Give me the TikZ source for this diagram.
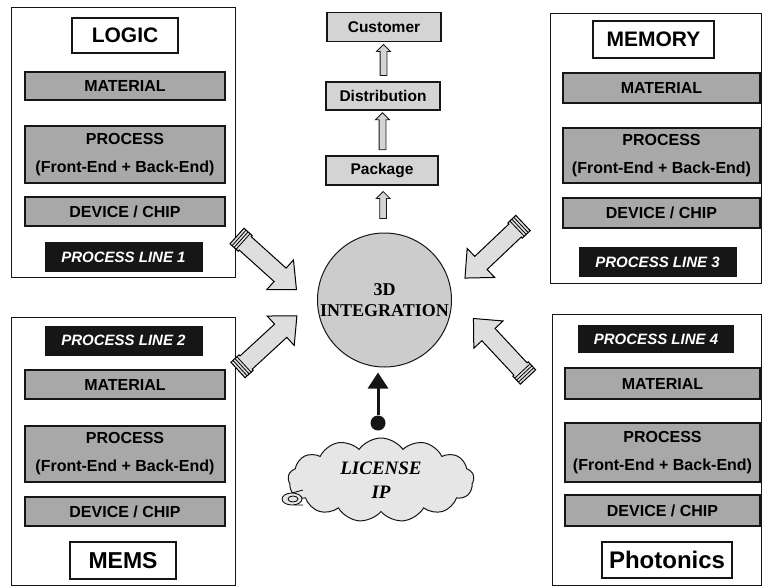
\documentclass[tikz,border=0pt]{standalone}
\usepackage{fontspec}
\setmainfont{Liberation Sans}
\newfontfamily\romanfont{Liberation Serif}
\usetikzlibrary{
  arrows.meta,
  positioning,
  calc,
  shapes.arrows,
  shapes.symbols
}
\definecolor{InkBlack}{RGB}{22,22,22}
\definecolor{ChipGray}{RGB}{168,168,168}
\definecolor{FlowGray}{RGB}{212,212,212}
\definecolor{CoreGray}{RGB}{204,204,204}
\definecolor{CloudGray}{RGB}{230,230,230}
\definecolor{TubeGray}{RGB}{222,222,222}
\tikzset{
  panel/.style={draw=InkBlack,line width=0.9pt,inner sep=0pt},
  techbox/.style={draw=InkBlack,fill=white,line width=1.3pt,minimum height=36pt,font=\fontsize{21}{24}\selectfont\bfseries},
  stepbox/.style={draw=InkBlack,fill=ChipGray,line width=1.8pt,inner sep=0pt,align=center,font=\fontsize{16}{28}\selectfont\bfseries},
  linebox/.style={fill=InkBlack,text=white,minimum width=158pt,minimum height=30pt,font=\fontsize{15}{18}\selectfont\bfseries\itshape},
  flowbox/.style={draw=InkBlack,fill=FlowGray,line width=1.4pt,minimum width=114pt,minimum height=29pt,font=\fontsize{15.5}{18}\selectfont\bfseries},
  hollowup/.style={single arrow,draw=InkBlack,fill=FlowGray,line width=0.8pt,shape border rotate=90,inner sep=3pt,single arrow head extend=3.5pt,minimum height=#1},
  core/.style={circle,draw=InkBlack,fill=CoreGray,line width=1pt,inner sep=0pt,minimum size=134pt,align=center,font=\romanfont\fontsize{18}{21}\selectfont\bfseries},
  licensecloud/.style={cloud,cloud puffs=13,cloud puff arc=110,aspect=2.2,draw=InkBlack,fill=CloudGray,line width=1pt,inner sep=0pt,minimum width=186pt,minimum height=84pt,align=center,font=\romanfont\fontsize{19}{24}\selectfont\bfseries\itshape},
  ipline/.style={-{Triangle[length=16pt,width=20pt]},line width=3pt,draw=InkBlack},
  tube/.pic={
    \draw[fill=TubeGray,line width=1pt,line join=miter]
      (0,-10.5) -- (11,-10.5) -- (11,-9) -- (58,-9) -- (58,-20) -- (80,0)
      -- (58,20) -- (58,9) -- (11,9) -- (11,10.5) -- (0,10.5) -- cycle;
    \foreach \k in {2.8,5.5,8.2}
      \draw[line width=0.8pt] (\k,-10.5) -- (\k,10.5);
  }
}
\begin{document}
\begin{tikzpicture}[x=1pt,y=-1pt]
\useasboundingbox (0,0) rectangle (762,586);

% top left: logic
\node[panel,minimum width=224pt,minimum height=270pt] (logic) at (123,142) {};
\node[techbox,minimum width=106pt,minimum height=35pt] (logictag) at (125,35.5) {LOGIC};
\node[stepbox,minimum width=200pt,minimum height=28pt] (logicmat) at (125,86) {MATERIAL};
\node[stepbox,minimum width=200pt,minimum height=57pt] (logicproc) at (125,154.5) {PROCESS\\(Front-End + Back-End)};
\node[stepbox,minimum width=200pt,minimum height=29pt] (logicdev) at (125,211.5) {DEVICE / CHIP};
\node[linebox] (line1) at (123.5,257) {PROCESS LINE 1};

% top right: memory
\node[panel,minimum width=211pt,minimum height=270pt] (memory) at (655.5,148) {};
\node[techbox,minimum width=121pt,minimum height=37pt] (memtag) at (653.5,39.5) {MEMORY};
\node[stepbox,minimum width=197pt,minimum height=30pt] (memmat) at (661.5,88) {MATERIAL};
\node[stepbox,minimum width=197pt,minimum height=55pt] (memproc) at (661.5,155.5) {PROCESS\\(Front-End + Back-End)};
\node[stepbox,minimum width=197pt,minimum height=30pt] (memdev) at (661.5,213) {DEVICE / CHIP};
\node[linebox] (line3) at (657.5,262) {PROCESS LINE 3};

% bottom left: mems
\node[panel,minimum width=224pt,minimum height=268.5pt] (mems) at (123,451.25) {};
\node[linebox] (line2) at (123.5,340.5) {PROCESS LINE 2};
\node[stepbox,minimum width=200pt,minimum height=29pt] (memsmat) at (125,384.5) {MATERIAL};
\node[stepbox,minimum width=200pt,minimum height=56pt] (memsproc) at (125,454) {PROCESS\\(Front-End + Back-End)};
\node[stepbox,minimum width=200pt,minimum height=29pt] (memsdev) at (125,511.5) {DEVICE / CHIP};
\node[techbox,minimum width=106pt,minimum height=37pt,font=\fontsize{23}{26}\selectfont\bfseries] (memstag) at (123,560.5) {MEMS};

% bottom right: photonics
\node[panel,minimum width=209pt,minimum height=271.5pt] (photo) at (656.5,449.75) {};
\node[linebox,minimum width=156pt,minimum height=28pt] (line4) at (656,339) {PROCESS LINE 4};
\node[stepbox,minimum width=195pt,minimum height=31pt] (photomat) at (662.5,383.5) {MATERIAL};
\node[stepbox,minimum width=195pt,minimum height=59pt] (photoproc) at (662.5,452.5) {PROCESS\\(Front-End + Back-End)};
\node[stepbox,minimum width=195pt,minimum height=31pt] (photodev) at (662.5,510.5) {DEVICE / CHIP};
\node[techbox,minimum width=130pt,minimum height=36pt,font=\fontsize{24}{27}\selectfont\bfseries] (phototag) at (667,560) {Photonics};

% supply chain above the integration step
\node[flowbox] (cust) at (384,27) {Customer};
\node[flowbox,minimum height=28pt] (dist) at (383,96) {Distribution};
\node[flowbox,minimum width=112pt] (pack) at (382,170.5) {Package};
\node[core] (integ) at (384.5,300) {3D\\INTEGRATION};

\node[hollowup=31pt] (up1) at ($(cust.south)!0.5!(dist.north)$) {};
\node[hollowup=37pt] (up2) at ($(dist.south)!0.5!(pack.north)$) {};
\node[hollowup=27pt] (up3) at ($(pack.south)!0.45!(integ.north)$) {};

% process lines feeding the integration
\coordinate (tubeA) at (237,236);
\coordinate (tubeB) at (523,223);
\coordinate (tubeC) at (238,370);
\coordinate (tubeD) at (528,377);
\pic[rotate=-42] at (tubeA) {tube};
\pic[rotate=-136.5] at (tubeB) {tube};
\pic[rotate=42.6] at (tubeC) {tube};
\pic[rotate=133] at (tubeD) {tube};

% licensed IP
\node[licensecloud] (lic) at (381,480) {LICENSE\\IP};
\draw[fill=CloudGray,line width=0.8pt] (303,490) -- (292,493) (303,505) -- (294,505);
\draw[fill=CloudGray,line width=0.8pt] (292,499) ellipse [x radius=10, y radius=6];
\draw[line width=0.8pt] (293,499) ellipse [x radius=5, y radius=3];
\node[circle,fill=InkBlack,minimum size=15pt,inner sep=0pt] (ipdot) at (378,423) {};
\draw[ipline,shorten >=5pt] (ipdot) -- (ipdot |- integ.south);
\end{tikzpicture}
\end{document}
